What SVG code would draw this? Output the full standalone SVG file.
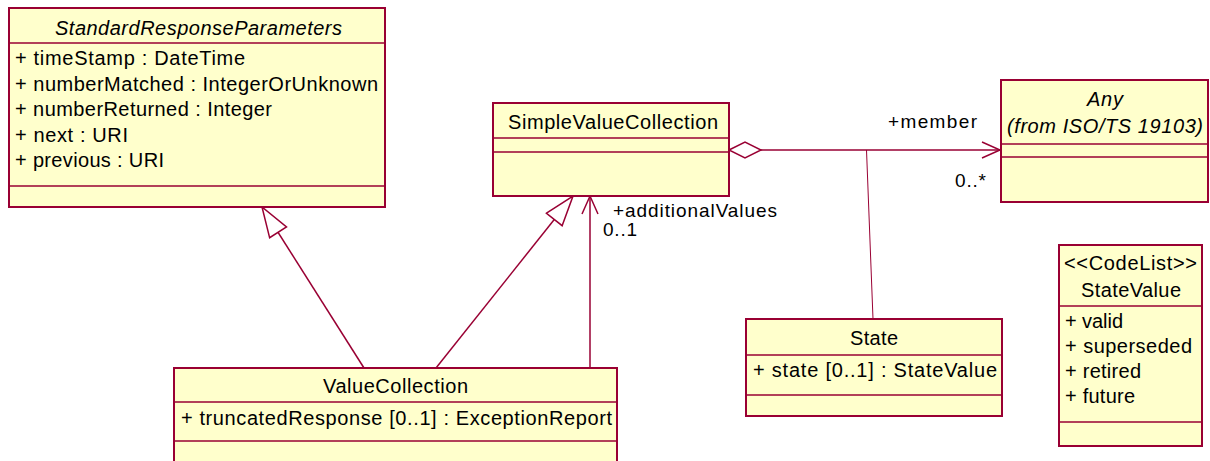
<svg xmlns="http://www.w3.org/2000/svg" width="1210" height="461" viewBox="0 0 1210 461">
<style>
.box{fill:#FFFFCC;stroke:#990033;stroke-width:2}
.sep{stroke:#990033;stroke-width:1.3}
.t{font-family:"Liberation Sans",Arial,sans-serif;font-size:20px;fill:#000}
.l{font-family:"Liberation Sans",Arial,sans-serif;font-size:19px;fill:#000}
.i{font-style:italic}
.c{fill:none;stroke:#990033;stroke-width:1.5}
.thin{fill:none;stroke:#990033;stroke-width:1}
</style>
<defs>
<marker id="gen" markerUnits="userSpaceOnUse" viewBox="-2 -2 34 24" refX="30" refY="10" markerWidth="34" markerHeight="24" orient="auto" overflow="visible">
<path d="M0,0 L30,10 L0,20 Z" fill="#fff" stroke="#990033" stroke-width="1.5"/>
</marker>
<marker id="dia" markerUnits="userSpaceOnUse" viewBox="-2 -2 36 20" refX="0" refY="8" markerWidth="36" markerHeight="20" orient="auto" overflow="visible">
<path d="M0,8 L16,0 L32,8 L16,16 Z" fill="#fff" stroke="#990033" stroke-width="1.5"/>
</marker>
<marker id="open" markerUnits="userSpaceOnUse" viewBox="-2 -2 22 20" refX="18" refY="8" markerWidth="22" markerHeight="20" orient="auto" overflow="visible">
<path d="M0,0 L18,8 L0,16" fill="none" stroke="#990033" stroke-width="1.5"/>
</marker>
</defs>
<rect width="1210" height="461" fill="#fff"/>

<g id="connectors">
<line class="c" x1="364" y1="368" x2="262" y2="207" marker-end="url(#gen)"/>
<line class="c" x1="436" y1="368" x2="573" y2="196" marker-end="url(#gen)"/>
<line class="c" x1="590" y1="368" x2="590" y2="196" marker-end="url(#open)"/>
<line class="c" x1="729" y1="150" x2="1000" y2="150" marker-start="url(#dia)" marker-end="url(#open)"/>
<line class="thin" x1="866.5" y1="150" x2="873" y2="319"/>
<text class="l" x="888" y="128" textLength="89">+member</text>
<text class="l" x="955" y="187" textLength="31">0..*</text>
<text class="l" x="613" y="217" textLength="164">+additionalValues</text>
<text class="l" x="603" y="236" textLength="34">0..1</text>
</g>

<g id="StandardResponseParameters">
<rect class="box" x="9" y="8" width="376" height="199"/>
<line class="sep" x1="9" y1="43" x2="385" y2="43"/>
<line class="sep" x1="9" y1="186" x2="385" y2="186"/>
<text class="t i" x="55" y="35" textLength="287">StandardResponseParameters</text>
<text class="t" x="15" y="65" textLength="230">+ timeStamp : DateTime</text>
<text class="t" x="15" y="90.5" textLength="363">+ numberMatched : IntegerOrUnknown</text>
<text class="t" x="15" y="116" textLength="257">+ numberReturned : Integer</text>
<text class="t" x="15" y="141.5" textLength="113">+ next : URI</text>
<text class="t" x="15" y="167" textLength="149">+ previous : URI</text>
</g>

<g id="SimpleValueCollection">
<rect class="box" x="493" y="103" width="236" height="93"/>
<line class="sep" x1="493" y1="138" x2="729" y2="138"/>
<line class="sep" x1="493" y1="152" x2="729" y2="152"/>
<text class="t" x="508" y="129" textLength="210">SimpleValueCollection</text>
</g>

<g id="Any">
<rect class="box" x="1001" y="80" width="207" height="122"/>
<line class="sep" x1="1001" y1="144" x2="1208" y2="144"/>
<line class="sep" x1="1001" y1="157" x2="1208" y2="157"/>
<text class="t i" x="1087" y="106" textLength="36">Any</text>
<text class="t i" x="1007" y="133" textLength="196">(from ISO/TS 19103)</text>
</g>

<g id="ValueCollection">
<rect class="box" x="174" y="368" width="443" height="100"/>
<line class="sep" x1="174" y1="402" x2="617" y2="402"/>
<line class="sep" x1="174" y1="441" x2="617" y2="441"/>
<text class="t" x="323" y="393" textLength="145">ValueCollection</text>
<text class="t" x="181" y="425" textLength="431">+ truncatedResponse [0..1] : ExceptionReport</text>
</g>

<g id="State">
<rect class="box" x="746" y="319" width="256" height="97"/>
<line class="sep" x1="746" y1="355" x2="1002" y2="355"/>
<line class="sep" x1="746" y1="395" x2="1002" y2="395"/>
<text class="t" x="850" y="345" textLength="48">State</text>
<text class="t" x="753" y="377" textLength="244">+ state [0..1] : StateValue</text>
</g>

<g id="StateValue">
<rect class="box" x="1059" y="245" width="143" height="201"/>
<line class="sep" x1="1059" y1="306" x2="1202" y2="306"/>
<line class="sep" x1="1059" y1="422" x2="1202" y2="422"/>
<text class="t" x="1064" y="270" textLength="133">&lt;&lt;CodeList&gt;&gt;</text>
<text class="t" x="1081" y="297" textLength="100">StateValue</text>
<text class="t" x="1065" y="328" textLength="58">+ valid</text>
<text class="t" x="1065" y="353" textLength="127">+ superseded</text>
<text class="t" x="1065" y="378" textLength="76">+ retired</text>
<text class="t" x="1065" y="403" textLength="70">+ future</text>
</g>
</svg>
